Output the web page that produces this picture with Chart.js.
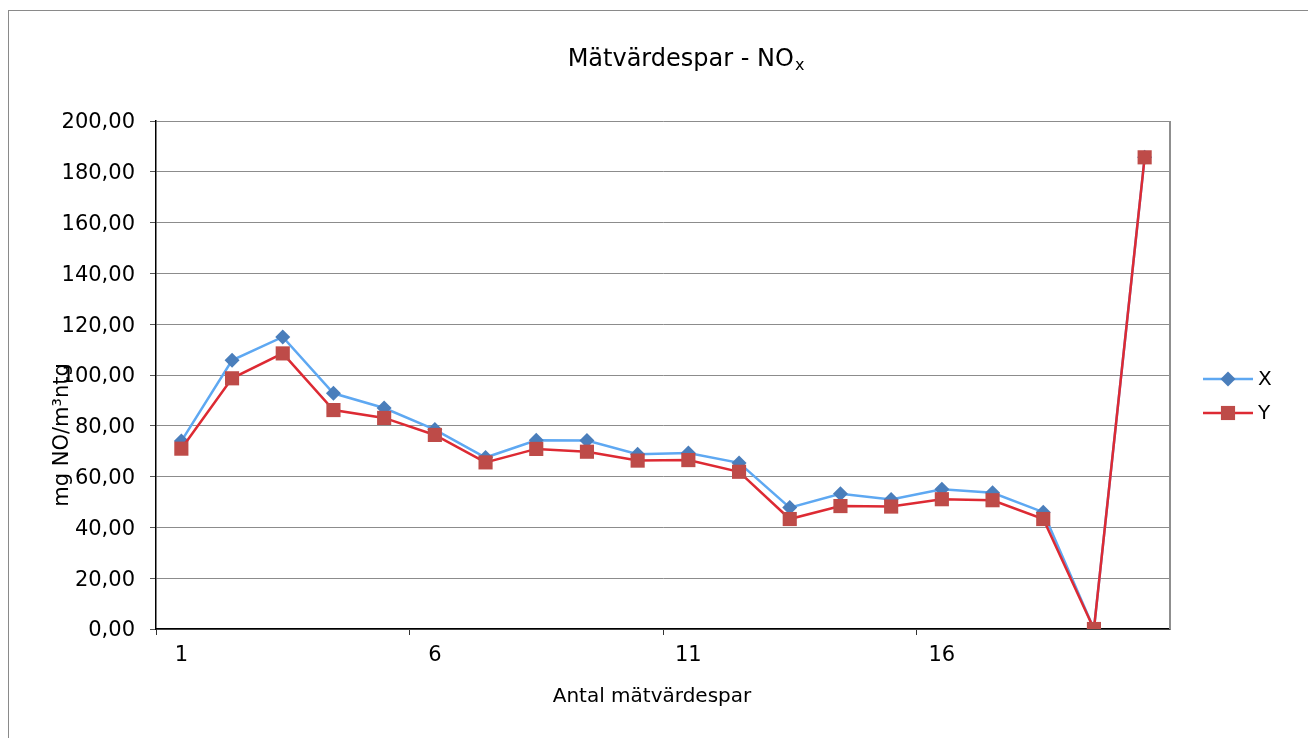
<!DOCTYPE html>
<html lang="sv">
<head>
<meta charset="utf-8">
<title>Mätvärdespar - NOx</title>
<script src="https://cdn.jsdelivr.net/npm/chart.js@4/dist/chart.umd.min.js"></script>
<style>
  html, body { margin: 0; padding: 0; background: #fff; overflow: hidden; }
  #wrap { position: relative; width: 1308px; height: 738px; overflow: hidden; }
  #frame { position: absolute; left: 8px; top: 10px; width: 1400px; height: 800px;
           border-left: 1px solid #8a8a8a; border-top: 1px solid #8a8a8a;
           box-sizing: border-box; pointer-events: none; }
  canvas { position: absolute; left: 0; top: 0; }
</style>
</head>
<body>
<div id="wrap">
  <div id="frame"></div>
  <canvas id="c" width="1308" height="738"></canvas>
</div>
<script>
// Measurement pairs 1..20
const categories = ['1','2','3','4','5','6','7','8','9','10','11','12','13','14','15','16','17','18','19','20'];
const seriesX = [74.0, 105.8, 115.0, 92.8, 87.0, 78.5, 67.5, 74.3, 74.2, 68.8, 69.3, 65.4, 47.8, 53.2, 51.0, 55.0, 53.6, 46.0, 0.0, 185.7];
const seriesY = [71.0, 98.7, 108.5, 86.2, 83.1, 76.4, 65.6, 70.9, 69.8, 66.3, 66.5, 61.9, 43.3, 48.4, 48.2, 51.1, 50.7, 43.3, 0.0, 185.7];
const yTicks = [0, 20, 40, 60, 80, 100, 120, 140, 160, 180, 200];

const FONT = '"DejaVu Sans", "Open Sans", sans-serif';

const series = [
  { label: 'X', data: seriesX, line: '#5ea8f2', marker: '#4a7ebb', style: 'rectRot', radius: 7.5, order: 2 },
  { label: 'Y', data: seriesY, line: '#dd2a33', marker: '#be4b48', style: 'rect', radius: 10, order: 1 }
];

// Chart title with a subscripted x in NOx, and the category axis title
const chartTexts = {
  id: 'chartTexts',
  afterDraw(chart) {
    const ctx = chart.ctx;
    const main = 'Mätvärdespar - NO';
    const sub = 'x';
    ctx.save();
    ctx.fillStyle = '#000';
    ctx.textBaseline = 'alphabetic';
    ctx.textAlign = 'left';
    ctx.font = '24px ' + FONT;
    const wMain = ctx.measureText(main).width;
    ctx.font = '16px ' + FONT;
    const wSub = ctx.measureText(sub).width;
    const x0 = 686 - (wMain + wSub + 1) / 2;
    const base = 66;
    ctx.font = '24px ' + FONT;
    ctx.fillText(main, x0, base);
    ctx.font = '16px ' + FONT;
    ctx.fillText(sub, x0 + wMain + 1, base + 4);

    ctx.font = '20px ' + FONT;
    ctx.textAlign = 'center';
    ctx.textBaseline = 'middle';
    ctx.fillText('Antal mätvärdespar', 652, 697);
    ctx.restore();
  }
};

// Legend with a short line and the marker centred on it
const lineLegend = {
  id: 'lineLegend',
  afterDraw(chart) {
    const ctx = chart.ctx;
    const x0 = chart.chartArea.right + 33;
    const rows = [379, 413];
    ctx.save();
    series.forEach((s, i) => {
      const y = rows[i];
      ctx.strokeStyle = s.line;
      ctx.lineWidth = 2.5;
      ctx.beginPath();
      ctx.moveTo(x0, y);
      ctx.lineTo(x0 + 50, y);
      ctx.stroke();
      ctx.fillStyle = s.marker;
      ctx.strokeStyle = s.marker;
      Chart.helpers.drawPoint(ctx, { pointStyle: s.style, radius: s.radius, borderWidth: 0 }, x0 + 25, y);
      ctx.fillStyle = '#000';
      ctx.font = '20px ' + FONT;
      ctx.textAlign = 'left';
      ctx.textBaseline = 'middle';
      ctx.fillText(s.label, x0 + 55, y + 1);
    });
    ctx.restore();
  }
};

// Right edge of the plot area and the rotated unit label
const plotDecor = {
  id: 'plotDecor',
  beforeDatasetsDraw(chart) {
    const { ctx, chartArea: a } = chart;
    ctx.save();
    ctx.strokeStyle = '#8f8f8f';
    ctx.lineWidth = 2;
    ctx.beginPath();
    ctx.moveTo(a.right, a.top);
    ctx.lineTo(a.right, a.bottom);
    ctx.stroke();
    ctx.restore();
  },
  afterDraw(chart) {
    const { ctx, chartArea: a } = chart;
    ctx.save();
    ctx.translate(a.left - 93, (a.top + a.bottom) / 2 + 60);
    ctx.rotate(-Math.PI / 2);
    ctx.fillStyle = '#000';
    ctx.font = '21px ' + FONT;
    ctx.textAlign = 'center';
    ctx.textBaseline = 'middle';
    ctx.fillText('mg NO/m³ntg', 0, 0);
    ctx.restore();
  }
};

new Chart(document.getElementById('c'), {
  type: 'line',
  data: {
    labels: categories,
    datasets: series.map(s => ({
      label: s.label,
      data: s.data,
      order: s.order,
      borderColor: s.line,
      borderWidth: 2.5,
      backgroundColor: s.marker,
      pointBackgroundColor: s.marker,
      pointBorderColor: s.marker,
      pointBorderWidth: 0,
      pointStyle: s.style,
      pointRadius: s.radius,
      pointHoverRadius: s.radius,
      tension: 0,
      fill: false
    }))
  },
  options: {
    responsive: false,
    animation: false,
    layout: { padding: { left: 0, right: 138, top: 121, bottom: 0 } },
    plugins: {
      legend: { display: false },
      tooltip: { enabled: false },
      title: { display: false }
    },
    scales: {
      x: {
        type: 'category',
        offset: true,
        grid: {
          offset: true,
          drawOnChartArea: false,
          drawTicks: true,
          tickLength: 6,
          tickColor: ctx => (ctx.index % 5 === 0 ? '#333' : 'rgba(0,0,0,0)')
        },
        border: { color: '#000', width: 1.5 },
        ticks: {
          autoSkip: false,
          maxRotation: 0,
          padding: 8,
          color: '#000',
          font: { family: FONT, size: 21 },
          callback: (v, i) => (i % 5 === 0 ? categories[i] : '')
        },
        title: { display: false },
        afterFit(scale) { scale.height = 109; }
      },
      y: {
        min: 0,
        max: 200,
        afterBuildTicks(scale) { scale.ticks = yTicks.map(v => ({ value: v })); },
        grid: { color: '#8c8c8c', lineWidth: 1, tickLength: 6, tickColor: '#555' },
        border: { color: '#000', width: 1.5 },
        ticks: {
          padding: 15,
          labelOffset: 2,
          color: '#000',
          font: { family: FONT, size: 21 },
          callback: v => v.toFixed(2).replace('.', ',')
        },
        afterFit(scale) { scale.width = 156; }
      }
    }
  },
  plugins: [chartTexts, lineLegend, plotDecor]
});
</script>
</body>
</html>
